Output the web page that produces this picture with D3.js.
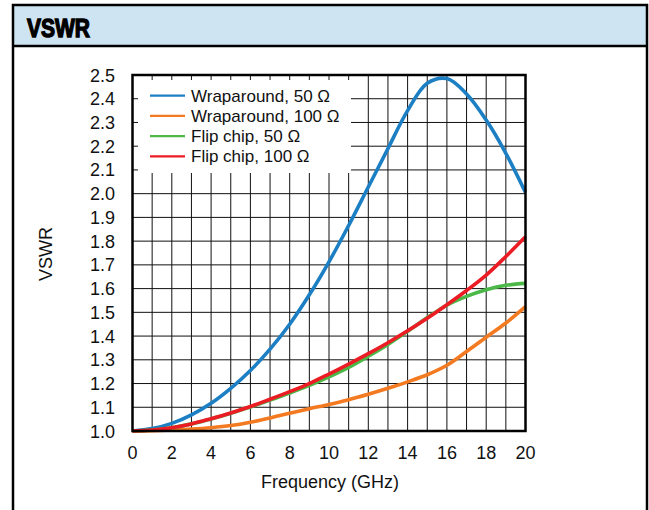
<!DOCTYPE html>
<html>
<head>
<meta charset="utf-8">
<script src="https://cdn.jsdelivr.net/npm/d3@7"></script>
<style>
  html, body { margin: 0; padding: 0; background: #fff; }
  svg { display: block; font-family: "Liberation Sans", Arial, sans-serif; }
</style>
</head>
<body>
<svg id="chart" width="649" height="510"></svg>
<script>
// frequency points (GHz)
const freqs = [0, 1, 2, 3, 4, 5, 6, 7, 8, 9, 10, 11, 12, 13, 14, 15, 16, 17, 18, 19, 20];

// VSWR values
const wrap50 = [1.00, 1.01, 1.032, 1.068, 1.117, 1.18, 1.255, 1.345, 1.45, 1.574, 1.713, 1.866, 2.028, 2.19, 2.35, 2.465, 2.485, 2.42, 2.31, 2.17, 2.005];
const wrap100 = [1.00, 1.001, 1.004, 1.008, 1.014, 1.023, 1.037, 1.055, 1.075, 1.094, 1.112, 1.132, 1.155, 1.18, 1.207, 1.237, 1.277, 1.335, 1.395, 1.455, 1.524];
const flip50 = [1.00, 1.004, 1.014, 1.03, 1.051, 1.075, 1.101, 1.13, 1.16, 1.192, 1.228, 1.268, 1.315, 1.365, 1.42, 1.478, 1.53, 1.567, 1.595, 1.614, 1.622];
const flip100 = [1.00, 1.004, 1.014, 1.03, 1.052, 1.076, 1.103, 1.134, 1.166, 1.2, 1.24, 1.282, 1.326, 1.372, 1.422, 1.475, 1.532, 1.592, 1.657, 1.735, 1.818];

const seriesNames = ["Wraparound, 50 Ω", "Wraparound, 100 Ω", "Flip chip, 50 Ω", "Flip chip, 100 Ω"];
const seriesColors = ["#1c7fc3", "#f47a22", "#4bb848", "#ec1c24"];
const seriesValues = [wrap50, wrap100, flip50, flip100];

const xTicks = [0, 2, 4, 6, 8, 10, 12, 14, 16, 18, 20];
const yTicks = [1.0, 1.1, 1.2, 1.3, 1.4, 1.5, 1.6, 1.7, 1.8, 1.9, 2.0, 2.1, 2.2, 2.3, 2.4, 2.5];

const svg = d3.select("#chart");

// outer panel + header
svg.append("rect")
  .attr("x", 13).attr("y", 5).attr("width", 634).attr("height", 41)
  .attr("fill", "#cfe4f2");
svg.append("path")
  .attr("d", "M13,520 V5 H647 V520 M13,46 H647")
  .attr("fill", "none").attr("stroke", "#000").attr("stroke-width", 2.5);
svg.append("text")
  .attr("x", 27).attr("y", 37)
  .attr("font-size", 26).attr("font-weight", "bold")
  .attr("stroke", "#000").attr("stroke-width", 1.4)
  .attr("textLength", 63).attr("lengthAdjust", "spacingAndGlyphs")
  .text("VSWR");

// plot area
const plotLeft = 132.5, plotRight = 525.5, plotTop = 75, plotBottom = 431;

const x = d3.scaleLinear().domain([0, 20]).range([plotLeft, plotRight]);
const y = d3.scaleLinear().domain([1.0, 2.5]).range([plotBottom, plotTop]);

const g = svg.append("g");

// grid, 1 GHz x 0.1
g.selectAll(".vgrid")
  .data(d3.range(1, 20))
  .enter().append("line")
  .attr("x1", d => x(d)).attr("x2", d => x(d))
  .attr("y1", plotTop).attr("y2", plotBottom)
  .attr("stroke", "#111").attr("stroke-width", 1);

g.selectAll(".hgrid")
  .data(yTicks.slice(1, -1))
  .enter().append("line")
  .attr("x1", plotLeft).attr("x2", plotRight)
  .attr("y1", d => y(d)).attr("y2", d => y(d))
  .attr("stroke", "#111").attr("stroke-width", 1);

// legend background hides grid
g.append("rect")
  .attr("x", 138).attr("y", 80).attr("width", 213).attr("height", 93)
  .attr("fill", "#fff");

// curves
const line = d3.line()
  .x((d, i) => x(freqs[i]))
  .y(d => y(d))
  .curve(d3.curveCatmullRom);

seriesValues.forEach((vals, i) => {
  g.append("path")
    .attr("d", line(vals))
    .attr("fill", "none")
    .attr("stroke", seriesColors[i])
    .attr("stroke-width", 3.6)
    .attr("stroke-linejoin", "round");
});

// plot border
g.append("rect")
  .attr("x", plotLeft).attr("y", plotTop)
  .attr("width", plotRight - plotLeft).attr("height", plotBottom - plotTop)
  .attr("fill", "none").attr("stroke", "#000").attr("stroke-width", 2.5);

// axis labels
g.selectAll(".ylab")
  .data(yTicks)
  .enter().append("text")
  .attr("x", 115).attr("y", d => y(d) + 6.5)
  .attr("text-anchor", "end")
  .attr("font-size", 18)
  .attr("fill", "#111")
  .text(d => d.toFixed(1));

g.selectAll(".xlab")
  .data(xTicks)
  .enter().append("text")
  .attr("x", d => x(d)).attr("y", 459)
  .attr("text-anchor", "middle")
  .attr("font-size", 18)
  .attr("fill", "#111")
  .text(d => d);

svg.append("text")
  .attr("x", 330).attr("y", 488)
  .attr("text-anchor", "middle")
  .attr("font-size", 18)
  .attr("fill", "#111")
  .text("Frequency (GHz)");

svg.append("text")
  .attr("transform", "translate(52,254) rotate(-90)")
  .attr("text-anchor", "middle")
  .attr("font-size", 18)
  .attr("fill", "#111")
  .text("VSWR");

// legend
const legend = svg.append("g");
seriesNames.forEach((name, i) => {
  const ly = 95.7 + i * 20.2;
  legend.append("line")
    .attr("x1", 150).attr("x2", 185)
    .attr("y1", ly).attr("y2", ly)
    .attr("stroke", seriesColors[i]).attr("stroke-width", 2.2);
  legend.append("text")
    .attr("x", 191).attr("y", ly + 6)
    .attr("font-size", 17)
    .attr("fill", "#111")
    .text(name);
});
</script>
</body>
</html>
